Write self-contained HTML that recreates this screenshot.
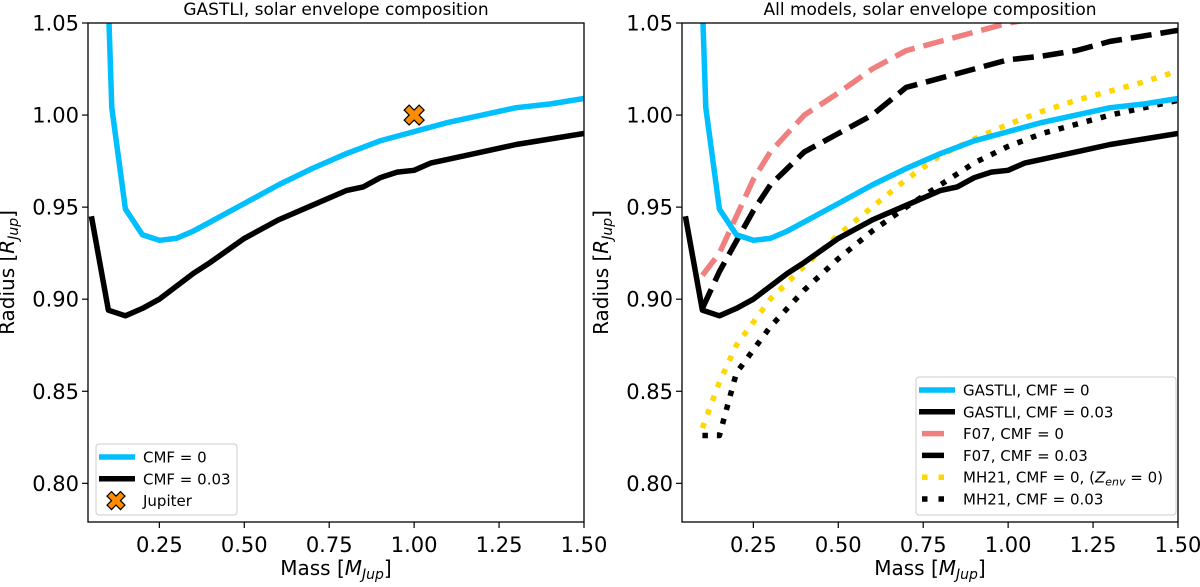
<!DOCTYPE html>
<html><head><meta charset="utf-8"><style>
body{margin:0;background:#fff;}
svg text{font-family:"DejaVu Sans","Liberation Sans",sans-serif;fill:#000;}
</style></head><body>
<svg id="c" width="1200" height="582" xmlns="http://www.w3.org/2000/svg"></svg>
<script>
const xTicks=[0.25,0.5,0.75,1.0,1.25,1.5];
const xTickLabels=["0.25","0.50","0.75","1.00","1.25","1.50"];
const yTicks=[0.80,0.85,0.90,0.95,1.00,1.05];
const yTickLabels=["0.80","0.85","0.90","0.95","1.00","1.05"];
const gastli0X=[0.10,0.11,0.15,0.2,0.25,0.3,0.35,0.4,0.5,0.6,0.7,0.8,0.9,1.0,1.1,1.2,1.3,1.4,1.5];
const gastli0Y=[1.06,1.004,0.949,0.935,0.932,0.933,0.937,0.942,0.952,0.962,0.971,0.979,0.986,0.991,0.996,1.000,1.004,1.006,1.009];
const gastli3X=[0.05,0.1,0.15,0.2,0.25,0.3,0.35,0.4,0.5,0.6,0.7,0.8,0.85,0.9,0.95,1.0,1.05,1.1,1.2,1.3,1.4,1.5];
const gastli3Y=[0.945,0.894,0.891,0.895,0.900,0.907,0.914,0.920,0.933,0.943,0.951,0.959,0.961,0.966,0.969,0.970,0.974,0.976,0.980,0.984,0.987,0.990];
const f070X=[0.1,0.15,0.2,0.25,0.3,0.4,0.5,0.6,0.7,0.8,0.9,1.0,1.1];
const f070Y=[0.913,0.925,0.945,0.965,0.980,1.000,1.012,1.025,1.035,1.040,1.045,1.050,1.053];
const f073X=[0.1,0.15,0.25,0.3,0.4,0.5,0.6,0.7,0.8,1.0,1.1,1.2,1.3,1.5];
const f073Y=[0.895,0.915,0.948,0.962,0.980,0.990,1.000,1.015,1.020,1.030,1.032,1.035,1.040,1.046];
const mh0X=[0.1,0.15,0.2,0.3,0.4,0.5,0.6,0.7,0.8,0.9,1.0,1.1,1.2,1.3,1.4,1.5];
const mh0Y=[0.830,0.855,0.875,0.900,0.918,0.935,0.950,0.965,0.978,0.987,0.995,1.002,1.008,1.013,1.018,1.024];
const mh3X=[0.1,0.15,0.2,0.3,0.4,0.5,0.6,0.7,0.8,0.9,1.0,1.1,1.2,1.3,1.4,1.5];
const mh3Y=[0.826,0.826,0.860,0.885,0.905,0.922,0.937,0.950,0.962,0.974,0.983,0.990,0.995,1.000,1.004,1.008];
const jupiterX=[1.0], jupiterY=[1.0];

const NS="http://www.w3.org/2000/svg";
const svg=document.getElementById('c');
function mk(tag,attrs,parent){const e=document.createElementNS(NS,tag);for(const k in attrs)e.setAttribute(k,attrs[k]);(parent||svg).appendChild(e);return e;}
const XMIN=0.04,XMAX=1.5,YMIN=0.779,YMAX=1.05,TOP=23,BOT=522;
function panel(left,right,title,name){
  const g=mk('g',{});
  
  
  const sx=v=>left+(v-XMIN)/(XMAX-XMIN)*(right-left);
  const sy=v=>BOT-(v-YMIN)/(YMAX-YMIN)*(BOT-TOP);
  const cid='clip'+name;
  const cp=mk('clipPath',{id:cid},g);mk('rect',{x:left,y:TOP,width:right-left,height:BOT-TOP},cp);
  const plot=mk('g',{'clip-path':'url(#'+cid+')'},g);
  const t=mk('text',{x:(left+right)/2,y:15,'text-anchor':'middle','font-size':17},g);t.textContent=title;
  
  xTicks.forEach((v,i)=>{mk('line',{x1:sx(v),x2:sx(v),y1:BOT,y2:BOT+6,stroke:'#000','stroke-width':1.2},g);
    const tx=mk('text',{x:sx(v),y:BOT+30,'text-anchor':'middle','font-size':21},g);tx.textContent=xTickLabels[i];
    });
  yTicks.forEach((v,i)=>{mk('line',{x1:left-6,x2:left,y1:sy(v),y2:sy(v),stroke:'#000','stroke-width':1.2},g);
    const ty=mk('text',{x:left-9,y:sy(v)+7.5,'text-anchor':'end','font-size':21},g);ty.textContent=yTickLabels[i];
    });
  const xl=mk('text',{x:(left+right)/2,y:BOT+53,'text-anchor':'middle','font-size':20},g);
  xl.innerHTML='Mass [<tspan font-style="italic">M</tspan><tspan font-style="italic" font-size="14" dy="4">Jup</tspan><tspan dy="-4">]</tspan>';
  
  const yx=left-74,yy=(TOP+BOT)/2;
  const yl=mk('text',{x:yx,y:yy,'text-anchor':'middle','font-size':20,transform:`rotate(-90 ${yx} ${yy})`},g);
  yl.innerHTML='Radius [<tspan font-style="italic">R</tspan><tspan font-style="italic" font-size="14" dy="4">Jup</tspan><tspan dy="-4">]</tspan>';
  
  return {g,plot,sx,sy,left,right};
}
function line(p,X,Y,color,dash,name){
  const d=X.map((x,i)=>(i?'L':'M')+p.sx(x).toFixed(1)+','+p.sy(Y[i]).toFixed(1)).join('');
  const a={d,fill:'none',stroke:color,'stroke-width':5.5,'stroke-linejoin':'round'};
  if(dash)a['stroke-dasharray']=dash;
  const e=mk('path',a,p.plot);
  
}
function frame(p){mk('rect',{x:p.left,y:TOP,width:p.right-p.left,height:BOT-TOP,fill:'none',stroke:'#000','stroke-width':1.3},p.g);}
function cross(parent,cx,cy,s){
  const pts=[[-1,-2],[0,-1],[1,-2],[2,-1],[1,0],[2,1],[1,2],[0,1],[-1,2],[-2,1],[-1,0],[-2,-1]].map(q=>(cx+q[0]*s)+','+(cy+q[1]*s)).join(' ');
  return mk('polygon',{points:pts,fill:'#ff8c00',stroke:'#000','stroke-width':1.2},parent);
}
const BLUE='#00bfff',PINK='#f08080',YEL='#ffd700';
const L=panel(88,584,'GASTLI, solar envelope composition','left-panel');
line(L,gastli0X,gastli0Y,BLUE,null,'gastli-cmf0-line');
line(L,gastli3X,gastli3Y,'#000',null,'gastli-cmf003-line');
const jm=cross(L.g,L.sx(jupiterX[0]),L.sy(jupiterY[0]),5);

frame(L);
const R=panel(682,1178,'All models, solar envelope composition','right-panel');
line(R,f070X,f070Y,PINK,'21,9','f07-cmf0-line');
line(R,f073X,f073Y,'#000','21,9','f07-cmf003-line');
line(R,mh0X,mh0Y,YEL,'5.5,9','mh21-cmf0-line');
line(R,mh3X,mh3Y,'#000','5.5,9','mh21-cmf003-line');
line(R,gastli0X,gastli0Y,BLUE,null,'gastli-cmf0-line');
line(R,gastli3X,gastli3Y,'#000',null,'gastli-cmf003-line');
frame(R);
function legend(x,y,w,h,entries,name){
  const g=mk('g',{});
  
  mk('rect',{x,y,width:w,height:h,rx:3,fill:'#fff','fill-opacity':0.85,stroke:'#ccc','stroke-width':1},g);
  entries.forEach((e,i)=>{
    const cy=y+13+i*21.8;
    const it=mk('g',{},g);
    
    if(e.type==='marker'){cross(it,x+20,cy,4.5);}
    else{const a={x1:x+(e.short?6:3),x2:x+(e.short?28:39),y1:cy,y2:cy,stroke:e.color,'stroke-width':5.5};if(e.dash)a['stroke-dasharray']=e.dash;mk('line',a,it);}
    const t=mk('text',{x:x+47,y:cy+5.5,'font-size':15},it);t.innerHTML=e.label;
  });
}
legend(96,444,141,71,[{color:BLUE,label:'CMF = 0'},{color:'#000',label:'CMF = 0.03'},{type:'marker',label:'Jupiter'}],'left-legend');
legend(916,377,260,138,[
 {color:BLUE,label:'GASTLI, CMF = 0'},
 {color:'#000',label:'GASTLI, CMF = 0.03'},
 {color:PINK,label:'F07, CMF = 0',short:1},
 {color:'#000',label:'F07, CMF = 0.03',short:1},
 {color:YEL,dash:'5.5,11',short:1,label:'MH21, CMF = 0, (<tspan font-style="italic">Z</tspan><tspan font-style="italic" font-size="11" dy="3">env</tspan><tspan dy="-3"> = 0)</tspan>'},
 {color:'#000',dash:'5.5,11',short:1,label:'MH21, CMF = 0.03'}],'right-legend');
</script>
</body></html>
